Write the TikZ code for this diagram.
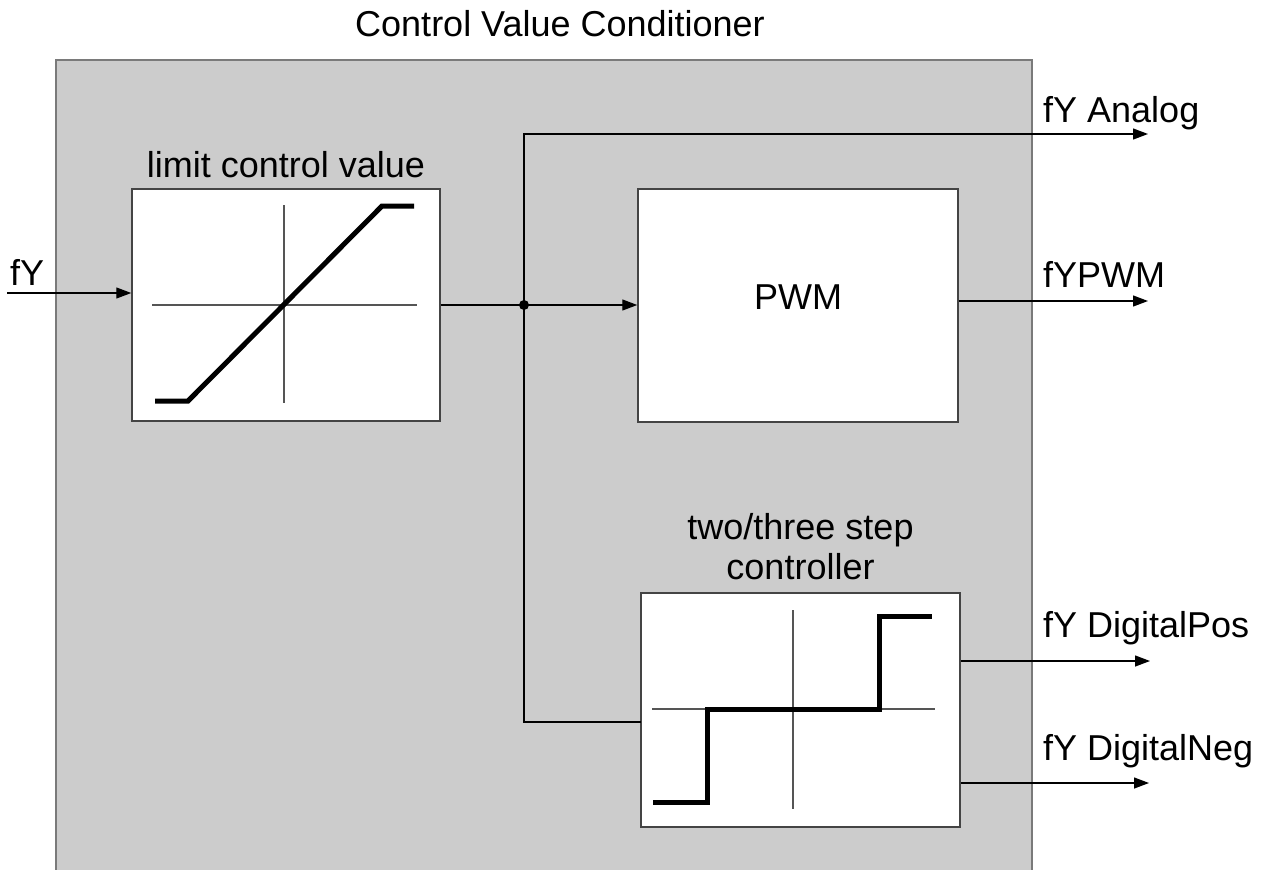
\documentclass[tikz,border=0pt]{standalone}
\usepackage{fontspec}
\setmainfont{Liberation Sans}
\usetikzlibrary{arrows.meta, positioning, calc}

\definecolor{fondo}{HTML}{CCCCCC}
\definecolor{marco}{HTML}{7A7A7A}
\definecolor{trazo}{HTML}{444444}
\definecolor{ejes}{HTML}{555555}

\begin{document}
\begin{tikzpicture}[
        x=1pt, y=-1pt,
        texto/.style={
            font=\fontsize{36}{40}\selectfont,
            inner sep=0pt
        },
        caja/.style={
            rectangle,
            draw=trazo,
            line width=1.5pt,
            fill=white
        },
        eje/.style={draw=ejes, line width=1.5pt},
        curva/.style={line width=5pt, line join=miter},
        linea/.style={line width=1.3pt},
        flecha/.style={-{Triangle[length=15pt, width=11pt]}, line width=1.3pt}
    ]
        \useasboundingbox (0,0) rectangle (1269,870);
        \clip (0,0) rectangle (1269,870);

        % bloque exterior
        \node[rectangle, draw=marco, line width=2pt, fill=fondo,
              minimum width=976pt, minimum height=840pt, anchor=north west]
            (conditioner) at (55,59) {};
        \node[texto, anchor=base] (titulo) at (560,36) {Control Value Conditioner};

        % limitador
        \node[caja, minimum width=308pt, minimum height=232pt] (limit) at (286,305) {};
        \node[texto, above=10pt of limit] (limitd) {limit control value};
        \begin{scope}[shift={(limit.center)}]
            \draw[eje] (-134,0) -- (131,0);
            \draw[eje] (-2,-100) -- (-2,98);
            \draw[curva] (-131,96) -- (-98,96) -- (96,-99) -- (128,-99);
        \end{scope}

        % PWM
        \node[caja, texto, minimum width=320pt, minimum height=233pt, text depth=16pt]
            (pwm) at (798,305.5) {PWM};

        % regulador de dos/tres puntos
        \node[caja, minimum width=319pt, minimum height=234pt] (step) at (800.5,710) {};
        \node[texto, align=center, above=12pt of step] (stepd) {two/three step\\controller};
        \begin{scope}[shift={(step.center)}]
            \draw[eje] (-148.5,-1) -- (134.5,-1);
            \draw[eje] (-7.5,-100) -- (-7.5,99);
            \draw[curva] (-147.5,92) -- (-93.5,92) -- (-93.5,-1) -- (78.5,-1)
                -- (78.5,-94) -- (131.5,-94);
        \end{scope}

        % entradas y salidas
        \coordinate (fyin) at (7,293);
        \coordinate (split) at (524,305);
        \coordinate (stepin) at (641,722);
        \coordinate (analogout) at (1148,134);
        \coordinate (pwmout) at (1148,301);
        \coordinate (posout) at (1150,661);
        \coordinate (negout) at (1149,783);

        \draw[flecha] (fyin) -- (fyin -| limit.west);
        \draw[linea] (limit.east |- split) -- (split);
        \draw[flecha] (split) -- (pwm.west |- split);
        \draw[flecha] (split) |- (analogout);
        \draw[linea] (split) |- (stepin);
        \fill (split) circle (5pt);

        \draw[flecha] (pwmout -| pwm.east) -- (pwmout);
        \draw[flecha] (posout -| step.east) -- (posout);
        \draw[flecha] (negout -| step.east) -- (negout);

        \node[texto, anchor=base west] (fy) at (10,285) {fY};
        \node[texto, anchor=base west] (analogd) at (1043,122) {fY Analog};
        \node[texto, anchor=base west] (pwmd) at (1043,287) {fYPWM};
        \node[texto, anchor=base west] (posd) at (1043,637) {fY DigitalPos};
        \node[texto, anchor=base west] (negd) at (1043,760) {fY DigitalNeg};
    \end{tikzpicture}
\end{document}
